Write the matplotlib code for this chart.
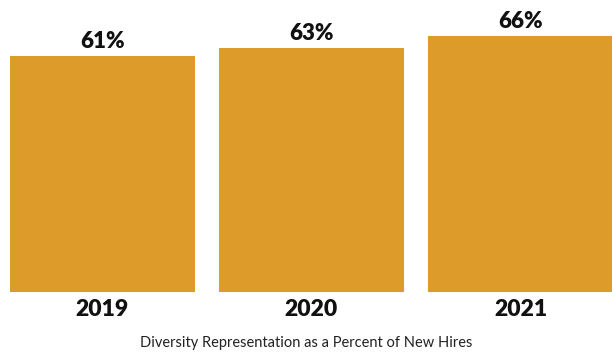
import matplotlib.pyplot as plt

years = ["2019", "2020", "2021"]
shares = [61, 63, 66]
value_labels = ["61%", "63%", "66%"]
caption = "Diversity Representation as a Percent of New Hires"

BAR_COLOR = "#DD9C29"

fig = plt.figure(figsize=(6.12, 3.56), dpi=100)
# axes: baseline sits 64 px above the bottom, runs to the top edge
ax = fig.add_axes([0, 64 / 356, 1, 292 / 356])

x = range(len(years))
bars = ax.bar(x, shares, width=0.885, color=BAR_COLOR)

for rect, label in zip(bars, value_labels):
    ax.annotate(label, (rect.get_x() + rect.get_width() / 2, rect.get_height()),
                xytext=(0, 3), textcoords="offset points",
                ha="center", va="bottom", fontsize=16, fontweight="heavy",
                family="Lato", color="#111111")

ax.set_xlim(-0.490, 2.438)
ax.set_ylim(0, 75.4)
ax.set_xticks(list(x))
ax.set_xticklabels(years, fontsize=16.5, fontweight="heavy", family="Lato", color="#111111")
ax.tick_params(axis="x", length=0, pad=5)
ax.set_yticks([])
for side in ax.spines.values():
    side.set_visible(False)

fig.text(0.5, 13 / 356, caption, ha="center", va="center",
         fontsize=10.5, family="Lato", color="#222222")

fig.savefig("out.png", dpi=100)
